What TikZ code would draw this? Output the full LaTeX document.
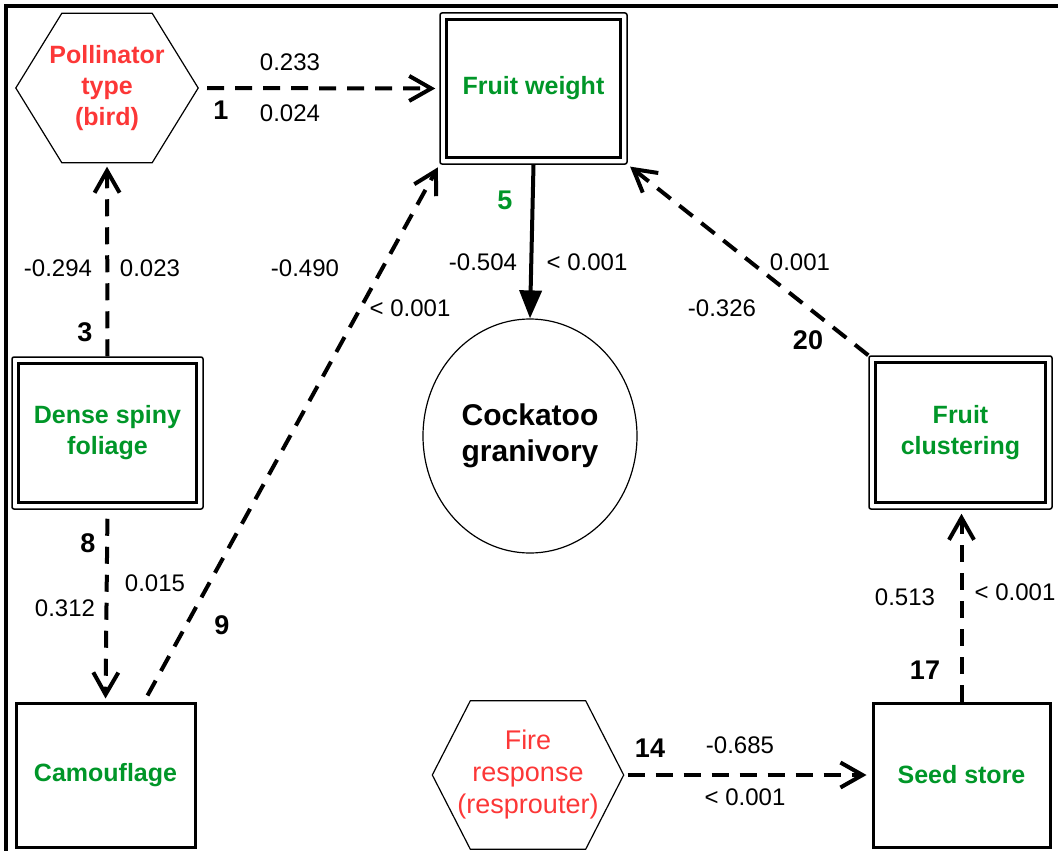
\documentclass[tikz,border=0pt]{standalone}
\usepackage{fontspec}
\setmainfont{Liberation Sans}
\usetikzlibrary{arrows.meta,shapes.geometric}
\definecolor{TraitGreen}{RGB}{0,150,40}
\definecolor{TraitRed}{RGB}{252,55,55}

\begin{document}
\begin{tikzpicture}[x=1pt,y=-1pt,
  trait/.style={font=\bfseries\fontsize{25}{31}\selectfont, text=TraitGreen, align=center},
  outerbox/.style={trait, draw, line width=1.5pt, rounded corners=2pt},
  plainbox/.style={trait, draw, line width=3pt},
  hexnode/.style={text=TraitRed, align=center, inner sep=0pt},
  est/.style={font=\fontsize{24}{28}\selectfont},
  pathno/.style={font=\bfseries\fontsize{27}{30}\selectfont},
  dasharrow/.style={line width=4pt, dash pattern=on 17pt off 11pt, -{Straight Barb[length=22pt,width=25pt]}}]
  \useasboundingbox (0,0) rectangle (1058,851);
  \draw[line width=3.5pt] (6,851) -- (6,6) -- (1058,6);

  % traits
  \node[hexnode, minimum width=182pt, minimum height=149pt, font=\bfseries\fontsize{25}{31}\selectfont] (pol) at (107,88) {Pollinator\\type\\(bird)};
  \node[outerbox, minimum width=187pt, minimum height=151pt] (fw) at (533.5,88.5) {Fruit weight};
  \node[outerbox, minimum width=191pt, minimum height=152pt] (dsf) at (107.5,433) {Dense spiny\\foliage};
  \node[outerbox, minimum width=183pt, minimum height=153pt] (fcl) at (960.5,432.5) {Fruit\\clustering};
  \node[plainbox, minimum width=179pt, minimum height=144pt] (cam) at (105.5,775) {Camouflage};
  \node[plainbox, minimum width=177pt, minimum height=144pt] (ss) at (961.5,775) {Seed store};
  \node[hexnode, minimum width=191pt, minimum height=148pt, font=\fontsize{27}{32}\selectfont] (fire) at (528,775) {Fire\\response\\(resprouter)};
  \node[draw, ellipse, line width=1.2pt, minimum width=214pt, minimum height=234pt, align=center,
        font=\bfseries\fontsize{30}{36}\selectfont] (cg) at (530,436) {Cockatoo\\granivory};
  \foreach \b in {fw,dsf,fcl}
    \draw[line width=3pt] ([shift={(7pt,-7pt)}]\b.north west) rectangle ([shift={(-7pt,7pt)}]\b.south east);
  \foreach \h/\c in {pol/46pt,fire/38pt}
    \draw[line width=1.2pt, line join=miter] (\h.west) -- ([xshift=\c]\h.north west) -- ([xshift=-\c]\h.north east)
      -- (\h.east) -- ([xshift=-\c]\h.south east) -- ([xshift=\c]\h.south west) -- cycle;

  % paths
  \draw[dasharrow, shorten <=9pt, shorten >=4pt] (pol.east) -- (fw.west);
  \draw[dasharrow, shorten >=4pt] (dsf.north) -- (pol.south);
  \draw[dasharrow, shorten <=9pt, shorten >=3pt] (dsf.south) -- (cam.north);
  \draw[dasharrow, shorten >=3pt] ([shift={(42pt,6pt)}]cam.north) -- (fw.south west);
  \draw[line width=4pt, -{Triangle[length=28pt,width=22pt]}] (fw.south) -- (cg.north);
  \draw[dasharrow, shorten >=3pt] (fcl.north west) -- (fw.south east);
  \draw[dasharrow, shorten >=4pt] (ss.north) -- (ss.north |- fcl.south);
  \draw[dasharrow, shorten <=4pt, shorten >=5pt] (fire.east) -- (ss.west);

  % estimates and p values
  \node[est] (e1) at (290,62) {0.233};
  \node[est] (p1) at (290,113) {0.024};
  \node[pathno] (n1) at (221,110) {1};
  \node[est] (e3) at (58,268) {-0.294};
  \node[est] (p3) at (150,268) {0.023};
  \node[pathno] (n3) at (85,332) {3};
  \node[pathno] (n8) at (88,543) {8};
  \node[est] (p8) at (155,583) {0.015};
  \node[est] (e8) at (65,608) {0.312};
  \node[pathno] (n9) at (222,625) {9};
  \node[est] (e9) at (305,268) {-0.490};
  \node[est] (p9) at (410,308) {< 0.001};
  \node[pathno, text=TraitGreen] (n5) at (505,200) {5};
  \node[est] (e5) at (483,262) {-0.504};
  \node[est] (p5) at (587,262) {< 0.001};
  \node[pathno] (n20) at (808,340) {20};
  \node[est] (p20) at (800,262) {0.001};
  \node[est] (e20) at (722,308) {-0.326};
  \node[pathno] (n17) at (925,670) {17};
  \node[est] (e17) at (905,597) {0.513};
  \node[est] (p17) at (1015,592) {< 0.001};
  \node[pathno] (n14) at (650,748) {14};
  \node[est] (e14) at (740,745) {-0.685};
  \node[est] (p14) at (745,797) {< 0.001};
\end{tikzpicture}
\end{document}
